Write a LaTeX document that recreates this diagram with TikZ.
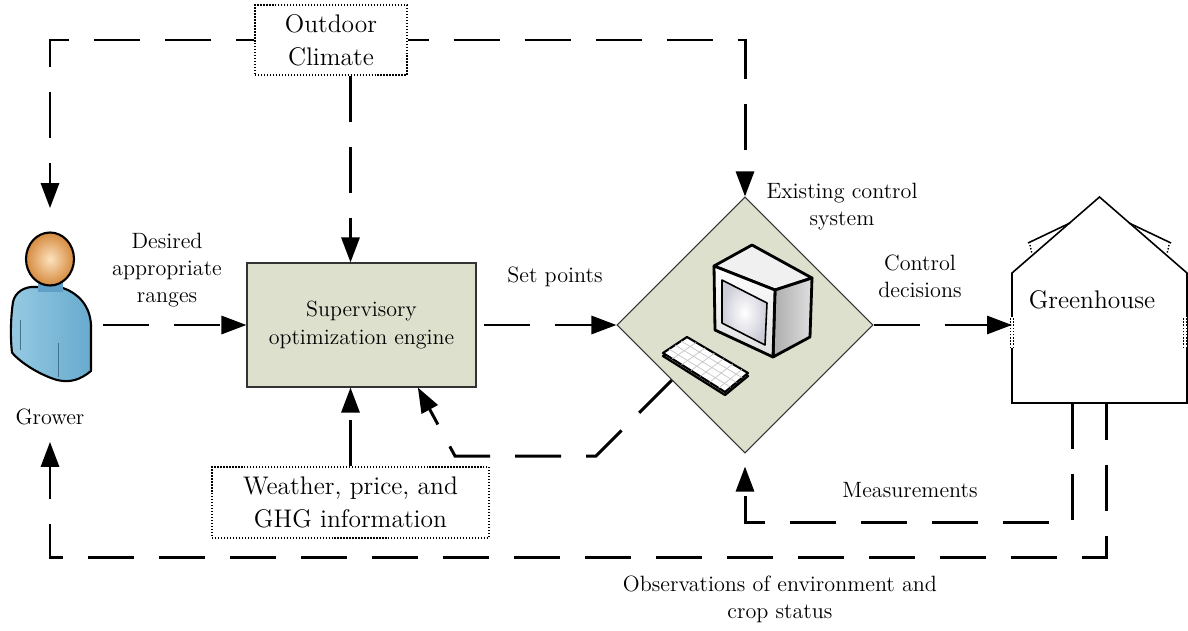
\documentclass[tikz,border=0pt]{standalone}
\usepackage{fontspec}
\usepackage{tikz}
\usetikzlibrary{shapes.geometric, arrows.meta, positioning, calc}
\definecolor{boxgreen}{RGB}{220,224,204}
\definecolor{headlight}{RGB}{252,226,190}
\definecolor{headdark}{RGB}{214,138,62}
\definecolor{bodylight}{RGB}{206,236,244}
\definecolor{bodymid}{RGB}{150,202,226}
\definecolor{bodydark}{RGB}{104,170,206}
\definecolor{neckblue}{RGB}{96,160,200}
\tikzset{
	flow/.style={draw, line width=1.7pt, dash pattern=on 9.2mm off 5mm, -{Triangle[length=5mm, width=3.6mm]}},
	house/.style={draw, line width=0.9pt, line join=miter}
}

\begin{document}
\begin{tikzpicture}[
	block/.style={rectangle, draw=black!80, fill=boxgreen, line width=0.6pt, minimum width=45.8mm, minimum height=24.8mm, align=center, font=\fontsize{12.5}{16}\selectfont},
	infobox/.style={rectangle, draw, densely dotted, line width=0.7pt, align=center, inner sep=0pt, font=\fontsize{14.5}{18.7}\selectfont},
	lbl/.style={align=center, font=\fontsize{12.6}{15.3}\selectfont},
	>={Triangle}
	]
	\useasboundingbox (0,0) rectangle (23.76,12.6);
	
	% Main row
	\node[minimum width=21mm, minimum height=46.6mm, inner sep=0pt] (grower) at (1.0,6.1) {};
	\node[block] (engine) at (7.23,6.1) {Supervisory\\optimization engine};
	\node[diamond, draw=black!80, fill=boxgreen, line width=0.6pt, shape aspect=1, minimum width=51.2mm, minimum height=51.2mm, inner sep=0pt] (controller) at (14.9,6.1) {};
	
	% Info sources
	\node[infobox, minimum width=30.4mm, minimum height=14mm] (outdoor) at (6.62,11.8) {Outdoor\\Climate};
	\node[infobox, minimum width=55.4mm, minimum height=14.2mm] (weather) at (7.01,2.55) {Weather, price, and\\GHG information};
	
	% Greenhouse outline
	\coordinate (gh_bl) at (20.24,4.54);
	\coordinate (gh_br) at (23.74,4.54);
	\coordinate (gh_el) at (20.24,7.14);
	\coordinate (gh_er) at (23.74,7.14);
	\coordinate (gh_top) at (21.99,8.66);
	\draw[house] (gh_bl) -- (gh_el) -- (gh_top) -- (gh_er) -- (gh_br) -- cycle;
	% roof vents
	\draw[house] (21.4,8.14) -- (20.56,7.74);
	\draw[house] (22.58,8.14) -- (23.42,7.74);
	\draw[densely dotted, line width=0.8pt] (20.6,7.7) -- (20.64,7.52);
	\draw[densely dotted, line width=0.8pt] (23.38,7.7) -- (23.34,7.52);
	% side windows
	\foreach \wx in {20.24,23.7} {
		\fill[white] (\wx-0.04,5.64) rectangle (\wx+0.04,6.26);
		\draw[densely dotted, line width=0.8pt] (\wx-0.035,5.64) -- (\wx-0.035,6.26) (\wx+0.035,5.64) -- (\wx+0.035,6.26);
	}
	\node[font=\fontsize{14.5}{18}\selectfont] (greenhouse) at (21.84,6.6) {Greenhouse};
	
	% Grower icon
	\begin{scope}[shift={(grower.center)}, line join=round]
		\draw[line width=1.2pt, left color=bodymid, middle color=bodylight, right color=bodydark]
			(-0.74,0.46) .. controls (-0.7,0.66) and (-0.5,0.78) .. (-0.28,0.76)
			-- (0.26,0.74) .. controls (0.55,0.64) and (0.8,0.4) .. (0.82,0.0)
			-- (0.82,-0.92) .. controls (0.6,-1.1) and (0.4,-1.16) .. (0.14,-1.1)
			.. controls (-0.2,-1.0) and (-0.6,-0.75) .. (-0.76,-0.55)
			.. controls (-0.8,-0.2) and (-0.78,0.2) .. cycle;
		\draw[neckblue!70!black, line width=0.5pt] (-0.6,0.1) -- (-0.6,-0.5);
		\draw[neckblue!70!black, line width=0.5pt] (0.16,-0.36) -- (0.16,-1.04);
		\fill[neckblue] (-0.24,0.95) rectangle (0.26,0.66);
		\draw[line width=1.2pt, inner color=headlight, outer color=headdark] (0,1.32) ellipse (0.48 and 0.53);
	\end{scope}
	\node[lbl] (grower_label) at (1.0,4.26) {Grower};
	
	% Computer icon
	\begin{scope}[shift={(controller.center)}, line join=round]
		% keyboard
		\draw[line width=1.3pt, fill=gray!45] (-1.64,-0.62) -- (-1.16,-0.30) -- (0.06,-1.02) -- (-0.40,-1.40) -- cycle;
		\draw[line width=1.2pt, fill=white] (-1.64,-0.56) -- (-1.16,-0.24) -- (0.06,-0.96) -- (-0.40,-1.34) -- cycle;
		\foreach \t in {0.25,0.5,0.75} {
			\draw[gray!45, line width=0.4pt] ($(-1.64,-0.56)!\t!(-1.16,-0.24)$) -- ($(-0.40,-1.34)!\t!(0.06,-0.96)$);
		}
		\foreach \t in {0.15,0.3,0.45,0.6,0.75,0.9} {
			\draw[gray!45, line width=0.4pt] ($(-1.64,-0.56)!\t!(-0.40,-1.34)$) -- ($(-1.16,-0.24)!\t!(0.06,-0.96)$);
		}
		% monitor
		\draw[line width=1.6pt, fill=gray!12] (-0.62,1.18) -- (0.14,1.6) -- (1.34,0.94) -- (0.6,0.7) -- cycle;
		\draw[line width=1.6pt, left color=gray!65, right color=gray!25] (0.6,0.7) -- (1.34,0.94) -- (1.3,-0.24) -- (0.56,-0.64) -- cycle;
		\draw[line width=1.6pt, top color=white, bottom color=gray!25] (-0.62,1.18) -- (0.6,0.7) -- (0.56,-0.64) -- (-0.6,-0.1) -- cycle;
		\draw[line width=0.9pt, inner color=white, outer color=blue!12!gray!35] (-0.46,0.9) -- (0.44,0.44) -- (0.4,-0.4) -- (-0.46,0.04) -- cycle;
	\end{scope}
	
	% Labels
	\node[lbl] (desired_label) at (3.34,7.2) {Desired\\appropriate\\ranges};
	\node[lbl] (setpoint_label) at (11.1,7.06) {Set points};
	\node[lbl] (existing_label) at (16.84,8.46) {Existing control\\system};
	\node[lbl] (decision_label) at (18.4,7.08) {Control\\decisions};
	\node[lbl] (measure_label) at (18.2,2.8) {Measurements};
	\node[lbl] (observe_label) at (15.6,0.62) {Observations of environment and\\crop status};
	
	% Forward path
	\draw[flow] (grower.east |- engine.west) -- (engine.west);
	\draw[flow, shorten <=1.4mm] (engine.east) -- (controller.west);
	\draw[flow] (controller.east) -- (controller.east -| gh_el);
	
	% Outdoor climate and information inputs
	\draw[flow, dash phase=5.6mm] (outdoor.west) -| (grower.north);
	\draw[flow, dash phase=5mm] (outdoor.east) -| (controller.north);
	\draw[flow] (outdoor.south -| weather.north) -- (engine.north -| weather.north);
	\draw[flow] (weather.north) -- (weather.north |- engine.south);
	
	% Feedback from the control system
	\coordinate (kb_corner) at (11.92,3.48);
	\coordinate (engine_corner) at (9.1,3.48);
	\draw[flow] ($(controller.west)!0.43!(controller.south)$) -- (kb_corner) -- (engine_corner) -- ($(engine.south)!0.49!(engine.south east)$);
	
	% Measurements and observations
	\coordinate (meas_out) at (21.44,4.54);
	\coordinate (meas_turn) at (21.44,2.16);
	\coordinate (obs_out) at (22.12,4.54);
	\coordinate (obs_turn) at (22.12,1.46);
	\draw[flow, shorten >=2.6mm] (meas_out) -- (meas_turn) -| (controller.south);
	\draw[flow, dash phase=1.9mm] (obs_out) -- (obs_turn) -| (grower.south);
	
\end{tikzpicture}
\end{document}
